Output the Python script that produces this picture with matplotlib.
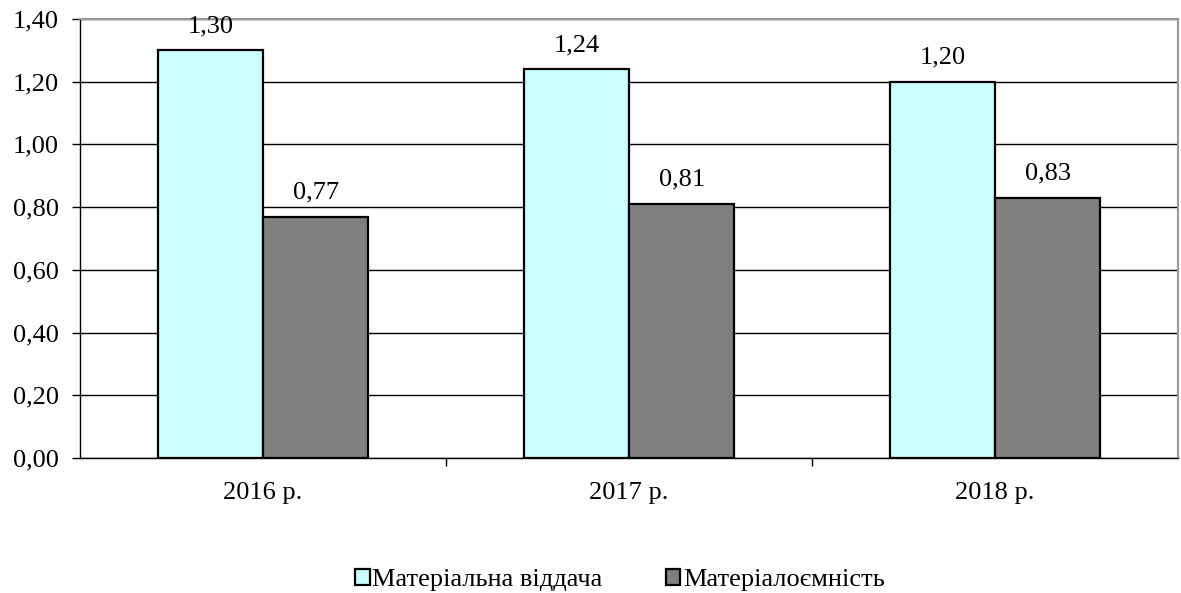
import matplotlib.pyplot as plt
import numpy as np
from matplotlib.ticker import FuncFormatter

years = ["2016 р.", "2017 р.", "2018 р."]
series_names = ["Матеріальна віддача", "Матеріалоємність"]
output_ratio = [1.30, 1.24, 1.20]
intensity = [0.77, 0.81, 0.83]

plt.rcParams['font.family'] = ['Liberation Serif', 'DejaVu Serif']
FS = 19

fig = plt.figure(figsize=(11.81, 5.93), dpi=100)
ax = fig.add_axes([80 / 1181, 1 - 458 / 593, (1178 - 80) / 1181, (458 - 19) / 593])

x = np.arange(len(years))
w = 0.288
colors = ["#CCFFFF", "#808080"]
for i, (vals, name, c) in enumerate(zip([output_ratio, intensity], series_names, colors)):
    pos = x + (i - 0.5) * w
    bars = ax.bar(pos, vals, width=w, color=c, edgecolor="black", linewidth=1.6,
                  label=name, zorder=3)
    for b, v in zip(bars, vals):
        ax.text(b.get_x() + b.get_width() / 2, v + 0.042, f"{v:.2f}".replace(".", ","),
                ha="center", va="bottom", fontsize=FS, zorder=4)

ax.set_xlim(-0.5, 2.5)
ax.set_ylim(0, 1.4)
ax.set_yticks(np.arange(0, 1.41, 0.2))
ax.yaxis.set_major_formatter(FuncFormatter(lambda v, p: f"{v:.2f}".replace(".", ",")))
ax.set_xticks(x)
ax.set_xticklabels(years)
ax.set_xticks([0.5, 1.5], minor=True)
ax.tick_params(axis="x", which="major", length=0, pad=17, labelsize=FS)
ax.tick_params(axis="x", which="minor", length=6, width=1, direction="out")
ax.tick_params(axis="y", length=6, width=1, direction="out", labelsize=FS, pad=9)
ax.yaxis.grid(True, color="black", linewidth=1, zorder=0)
ax.set_axisbelow(True)

for s in ["top", "right"]:
    ax.spines[s].set_color("#999999")
    ax.spines[s].set_linewidth(1.5)
for s in ["left", "bottom"]:
    ax.spines[s].set_color("black")
    ax.spines[s].set_linewidth(1)

fig.legend(loc="center", bbox_to_anchor=(620 / 1181, 1 - 580 / 593), ncol=2, frameon=False,
           fontsize=FS, handlelength=0.55, handleheight=0.55, handletextpad=0.1,
           columnspacing=2.4)

fig.savefig("out.png", dpi=100)
